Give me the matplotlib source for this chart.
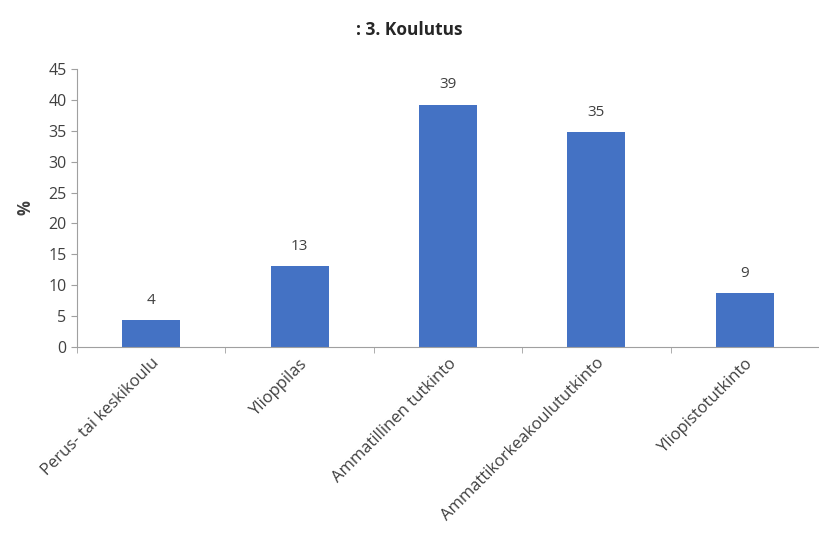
import matplotlib.pyplot as plt
import numpy as np

# data
categories = ["Perus- tai keskikoulu", "Ylioppilas", "Ammatillinen tutkinto",
              "Ammattikorkeakoulututkinto", "Yliopistotutkinto"]
values = [4.3, 13.1, 39.2, 34.8, 8.7]
value_labels = ["4", "13", "39", "35", "9"]
title = ": 3. Koulutus"

plt.rcParams['font.family'] = ['Open Sans', 'DejaVu Sans']

fig = plt.figure(figsize=(8.19, 5.34), dpi=100)
ax = fig.add_axes([77 / 819, 187 / 534, 742 / 819, 278 / 534])

x = np.arange(len(categories))
ax.bar(x, values, width=0.39, color='#4472C4')

for xi, v, lab in zip(x, values, value_labels):
    ax.text(xi, v + 2.0, lab, ha='center', va='bottom', fontsize=11, color='#404040')

ax.set_ylim(0, 45)
ax.set_xlim(-0.5, -0.5 + 742 / 149.5)
ax.set_yticks(np.arange(0, 46, 5))
ax.tick_params(axis='y', labelsize=11.5, colors='#404040', length=4, color='#a0a0a0')

ax.set_xticks(x)
ax.set_xticklabels(categories, rotation=45, ha='right', rotation_mode='anchor', fontsize=12,
                   color='#404040')
ax.tick_params(axis='x', length=0, pad=6)
ax.set_xticks(np.arange(-0.5, 5, 1), minor=True)
ax.tick_params(axis='x', which='minor', length=4, color='#a0a0a0')

for s in ['top', 'right']:
    ax.spines[s].set_visible(False)
for s in ['left', 'bottom']:
    ax.spines[s].set_color('#a0a0a0')

ax.set_ylabel('%', fontsize=12, fontweight='bold', color='#404040', labelpad=10)
fig.suptitle(title, x=0.5, y=1 - 30 / 534, va='center', fontsize=12.5, fontweight='bold',
             color='#262626')

fig.savefig('out.png', dpi=100)
